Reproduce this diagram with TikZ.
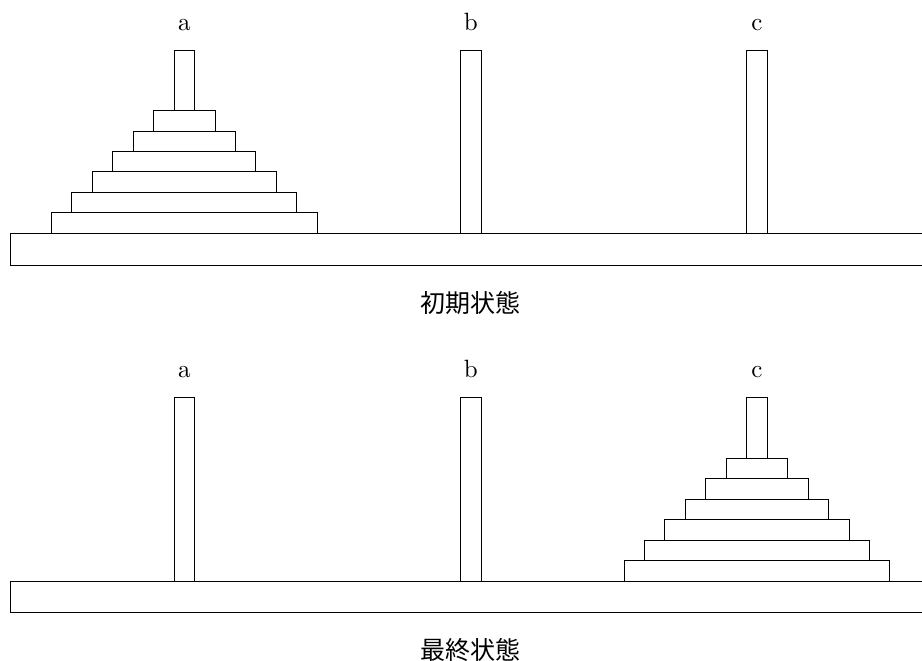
\documentclass[tikz,border=0pt]{standalone}
\usepackage{fontspec}
\newfontfamily\cjk{Noto Sans CJK JP}
\begin{document}
\begin{tikzpicture}[x=0.4pt,y=-0.4pt,line width=0.4pt,
  part/.style={draw=black,fill=white},
  peglabel/.style={anchor=base,inner sep=0pt,font=\fontsize{10}{12}\selectfont},
  caption/.style={inner sep=0pt,font=\cjk\fontsize{10}{12}\selectfont}]
\useasboundingbox (0,0) rectangle (922,661);
\clip (0,0) rectangle (922,661);
\def\u{20.45}
\foreach \dy/\cap/\nm/\dx in {0/初期状態/init/184.4, 347.7/最終状態/final/757} {
  \begin{scope}[yshift=-\dy*0.4pt]
    % base
    \draw[part] (10,233.3) rectangle (940,265);
    % pegs
    \foreach \px/\lb in {184.4/a, 470.8/b, 757/c} {
      \draw[part] (\px-0.5*\u,50) rectangle (\px+0.5*\u,233.3);
      \node[peglabel] (\nm-\lb) at (\px,30) {\lb};
    }
    % disks
    \foreach \i in {0,...,5} {
      \draw[part] ({\dx-(6.5-\i)*\u},{233.3-(\i+1)*\u}) rectangle ({\dx+(6.5-\i)*\u},{233.3-\i*\u});
    }
    \node[caption] (\nm-caption) at (470.8,302.5) {\cap};
  \end{scope}
}
\end{tikzpicture}
\end{document}
